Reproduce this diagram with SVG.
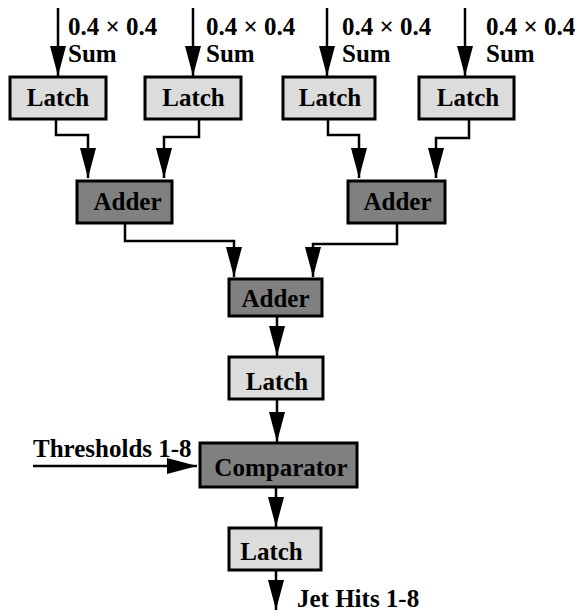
<svg xmlns="http://www.w3.org/2000/svg" width="578" height="612" viewBox="0 0 578 612">
<style>
  .box{stroke:#000;stroke-width:3}
  .light{fill:#dcdcdc}
  .dark{fill:#808080}
  text{font-family:"Liberation Serif","Times New Roman",serif;font-weight:bold;font-size:25px;fill:#000}
  .c{text-anchor:middle}
  .conn path{fill:none;stroke:#000;stroke-width:2.5;marker-end:url(#arr)}
</style>
<defs>
  <marker id="arr" markerUnits="userSpaceOnUse" markerWidth="30" markerHeight="16" refX="30" refY="8" orient="auto" viewBox="0 0 30 16">
    <path d="M0,0 L30,8 L0,16 z" fill="#000"/>
  </marker>
</defs>
<rect width="578" height="612" fill="#fff"/>
<g id="connectors" class="conn">
  <path d="M58,8 V76"/>
  <path d="M193,8 V76"/>
  <path d="M327,8 V76"/>
  <path d="M465,8 V76"/>
  <path d="M56,119 V135 H88 V178"/>
  <path d="M199,119 V137 H164 V178"/>
  <path d="M328,119 V135 H359 V178"/>
  <path d="M469,119 V138 H436 V178"/>
  <path d="M125,224 V241 H234 V277"/>
  <path d="M397,224 V244 H313 V277"/>
  <path d="M277,317 V356"/>
  <path d="M277,400 V442"/>
  <path d="M276,486 V527"/>
  <path d="M276,570 V610"/>
  <path d="M33,466 H197"/>
</g>
<g id="labels">
  <text x="68" y="35">0.4 × 0.4</text><text x="68" y="62">Sum</text>
  <text x="206" y="35">0.4 × 0.4</text><text x="206" y="62">Sum</text>
  <text x="342" y="35">0.4 × 0.4</text><text x="342" y="62">Sum</text>
  <text x="486" y="35">0.4 × 0.4</text><text x="486" y="62">Sum</text>
  <text x="33" y="457">Thresholds 1-8</text>
  <text x="297" y="607">Jet Hits 1-8</text>
</g>
<g id="latch1"><rect class="box light" x="10" y="77" width="96" height="42"/><text class="c" x="58" y="106">Latch</text></g>
<g id="latch2"><rect class="box light" x="145" y="77" width="96" height="42"/><text class="c" x="193.5" y="106">Latch</text></g>
<g id="latch3"><rect class="box light" x="283" y="77" width="92" height="42"/><text class="c" x="330" y="106">Latch</text></g>
<g id="latch4"><rect class="box light" x="419" y="77" width="95" height="42"/><text class="c" x="468" y="106">Latch</text></g>
<g id="adder1"><rect class="box dark" x="77" y="181" width="95" height="42"/><text class="c" x="127.5" y="210">Adder</text></g>
<g id="adder2"><rect class="box dark" x="348" y="181" width="97" height="42"/><text class="c" x="397.5" y="210">Adder</text></g>
<g id="adder3"><rect class="box dark" x="229" y="279" width="93" height="37"/><text class="c" x="275.5" y="307">Adder</text></g>
<g id="latch5"><rect class="box light" x="229" y="357" width="94" height="42"/><text class="c" x="277" y="390">Latch</text></g>
<g id="comparator"><rect class="box dark" x="200" y="443" width="157" height="44"/><text class="c" x="281" y="476">Comparator</text></g>
<g id="latch6"><rect class="box light" x="229" y="528" width="92" height="42"/><text class="c" x="271.5" y="560">Latch</text></g>
</svg>
